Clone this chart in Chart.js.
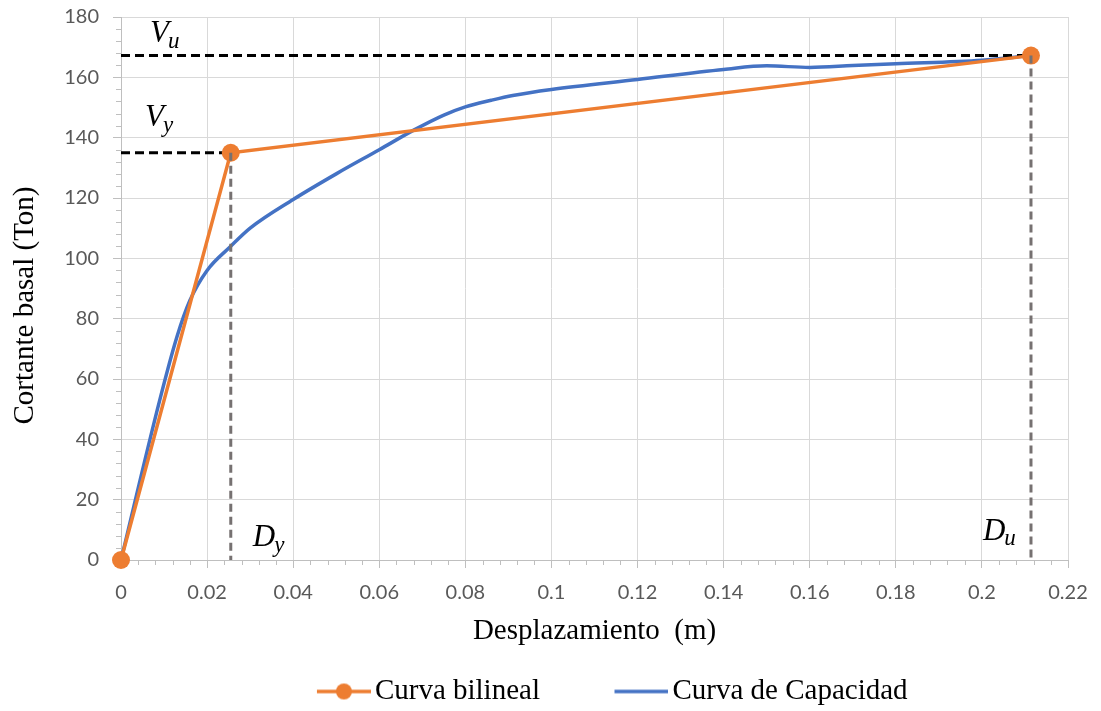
<!DOCTYPE html>
<html>
<head>
<meta charset="utf-8">
<title>Curva de capacidad</title>
<script src="https://cdn.jsdelivr.net/npm/chart.js@4.4.1/dist/chart.umd.min.js"></script>
<style>
  html, body { margin: 0; padding: 0; background: #fff; }
  #chart { display: block; }
</style>
</head>
<body>
<canvas id="chart" width="1101" height="711"></canvas>
<script>
// curva bilineal: origen, punto de fluencia (Dy, Vy), punto ultimo (Du, Vu)
var bilinealX = [0, 0.0255, 0.2114];
var bilinealY = [0, 135, 167.2];

// curva de capacidad (pushover)
var capacidadX = [0, 0.009, 0.013, 0.016, 0.02, 0.0255, 0.03, 0.04, 0.05, 0.06, 0.068,
                  0.075, 0.08, 0.086, 0.091, 0.1, 0.12, 0.14, 0.15, 0.16, 0.17, 0.18,
                  0.2, 0.2114];
var capacidadY = [0, 53, 74, 86, 96, 104, 110, 119.5, 128, 136, 142.5,
                  147.5, 150.2, 152.4, 154, 156, 159.3, 162.6, 163.8, 163.3, 163.9, 164.5,
                  165.7, 167.2];

var xTicks = [0, 0.02, 0.04, 0.06, 0.08, 0.1, 0.12, 0.14, 0.16, 0.18, 0.2, 0.22];
var yTicks = [0, 20, 40, 60, 80, 100, 120, 140, 160, 180];
var xMinorStep = 0.004;
var yMinorStep = 4;

var tituloY = 'Cortante basal (Ton)';

var Dy = bilinealX[1], Vy = bilinealY[1];
var Du = bilinealX[2], Vu = bilinealY[2];

function toPoints(xs, ys) {
  return xs.map(function (x, i) { return { x: x, y: ys[i] }; });
}

var naranja = '#ED7D31';
var azul = '#4472C4';
var gris = '#767171';

// icono de leyenda estilo Excel: linea con (o sin) marcador
function legendIcon(color, dot) {
  var c = document.createElement('canvas');
  c.width = 100; c.height = 20;
  var g = c.getContext('2d');
  g.strokeStyle = color;
  g.lineWidth = 3.5;
  g.beginPath(); g.moveTo(46, 10); g.lineTo(100, 10); g.stroke();
  if (dot) {
    g.fillStyle = color;
    g.beginPath(); g.arc(73, 10, 8, 0, Math.PI * 2); g.fill();
  }
  return c;
}
var iconos = [legendIcon(naranja, true), legendIcon(azul, false)];

var minorTicks = {
  id: 'minorTicks',
  afterDraw: function (chart) {
    var ctx = chart.ctx, xs = chart.scales.x, ys = chart.scales.y, a = chart.chartArea;
    ctx.save();
    ctx.strokeStyle = '#BFBFBF';
    ctx.lineWidth = 1;
    ctx.beginPath();
    var nY = Math.round(yTicks[yTicks.length - 1] / yMinorStep);
    for (var i = 0; i <= nY; i++) {
      if (i % 5 === 0) continue;
      var py = Math.round(ys.getPixelForValue(i * yMinorStep)) + 0.5;
      ctx.moveTo(a.left - 5, py); ctx.lineTo(a.left, py);
    }
    var nX = Math.round(xTicks[xTicks.length - 1] / xMinorStep);
    for (var j = 0; j <= nX; j++) {
      if (j % 5 === 0) continue;
      var px = Math.round(xs.getPixelForValue(j * xMinorStep)) + 0.5;
      ctx.moveTo(px, a.bottom); ctx.lineTo(px, a.bottom + 5);
    }
    ctx.stroke();
    ctx.restore();
  }
};

// rotulos Vu, Vy, Dy, Du con subindice
function simbolo(ctx, main, sub, x, base, subDrop) {
  ctx.font = 'italic 31px "Liberation Serif"';
  ctx.fillText(main, x, base);
  var w = ctx.measureText(main).width;
  ctx.font = 'italic 23px "Liberation Serif"';
  ctx.fillText(sub, x + w - 1, base + subDrop);
}

var rotulos = {
  id: 'rotulos',
  afterDraw: function (chart) {
    var ctx = chart.ctx, xs = chart.scales.x, ys = chart.scales.y, a = chart.chartArea;
    ctx.save();
    ctx.fillStyle = '#000';
    ctx.textAlign = 'left';
    ctx.textBaseline = 'alphabetic';
    simbolo(ctx, 'V', 'u', a.left + 29, ys.getPixelForValue(Vu) - 14, 6);
    simbolo(ctx, 'V', 'y', a.left + 24, ys.getPixelForValue(Vy) - 27, 6);
    simbolo(ctx, 'D', 'y', xs.getPixelForValue(Dy) + 22, a.bottom - 14, 6);
    simbolo(ctx, 'D', 'u', xs.getPixelForValue(Du) - 48, a.bottom - 20, 5);

    // titulo del eje vertical, algo por debajo del centro como en Excel
    ctx.translate(25, (a.top + a.bottom) / 2 + 17);
    ctx.rotate(-Math.PI / 2);
    ctx.textAlign = 'center';
    ctx.textBaseline = 'middle';
    ctx.font = '29px "Liberation Serif"';
    ctx.fillText(tituloY, 0, 0);
    ctx.restore();
  }
};

function numero(v) {
  return String(Math.round(v * 1000) / 1000);
}

var ctx = document.getElementById('chart');
var chart = new Chart(ctx, {
  type: 'scatter',
  data: {
    datasets: [
      {
        label: 'Curva bilineal',
        data: toPoints(bilinealX, bilinealY),
        showLine: true,
        borderColor: naranja,
        backgroundColor: naranja,
        borderWidth: 3.5,
        pointRadius: 9,
        pointBorderWidth: 0,
        pointHoverRadius: 9,
        clip: false,
        order: 2
      },
      {
        label: 'Curva de Capacidad',
        data: toPoints(capacidadX, capacidadY),
        showLine: true,
        borderColor: azul,
        backgroundColor: azul,
        borderWidth: 3.5,
        pointRadius: 0,
        cubicInterpolationMode: 'monotone',
        order: 4
      },
      {
        label: 'Vu',
        data: [{ x: 0, y: Vu }, { x: Du, y: Vu }],
        showLine: true,
        borderColor: '#000',
        borderWidth: 3,
        borderDash: [9, 5],
        pointRadius: 0,
        order: 3
      },
      {
        label: 'Vy',
        data: [{ x: 0, y: Vy }, { x: Dy, y: Vy }],
        showLine: true,
        borderColor: '#000',
        borderWidth: 3,
        borderDash: [9, 5],
        pointRadius: 0,
        order: 3
      },
      {
        label: 'Dy',
        data: [{ x: Dy, y: Vy }, { x: Dy, y: 0 }],
        showLine: true,
        borderColor: gris,
        borderWidth: 3,
        borderDash: [8, 5],
        pointRadius: 0,
        order: 1
      },
      {
        label: 'Du',
        data: [{ x: Du, y: Vu }, { x: Du, y: 0 }],
        showLine: true,
        borderColor: gris,
        borderWidth: 3,
        borderDash: [8, 5],
        pointRadius: 0,
        order: 1
      }
    ]
  },
  options: {
    responsive: false,
    animation: false,
    devicePixelRatio: 1,
    layout: { padding: { top: 17, right: 33, left: 0, bottom: -5 } },
    plugins: {
      tooltip: { enabled: false },
      legend: {
        position: 'bottom',
        fullSize: false,
        labels: {
          usePointStyle: true,
          pointStyleWidth: 79,
          padding: 39,
          color: '#000',
          font: { family: '"Liberation Serif"', size: 29 },
          filter: function (item) { return item.datasetIndex < 2; },
          generateLabels: function (chart) {
            var items = Chart.defaults.plugins.legend.labels.generateLabels(chart);
            items.forEach(function (it) {
              if (it.datasetIndex < 2) it.pointStyle = iconos[it.datasetIndex];
            });
            return items;
          }
        }
      }
    },
    scales: {
      x: {
        type: 'linear',
        min: 0,
        max: 0.22,
        afterBuildTicks: function (s) { s.ticks = xTicks.map(function (v) { return { value: v }; }); },
        afterFit: function (s) { s.height = 78; },
        grid: { color: '#D9D9D9', lineWidth: 1, tickLength: 8, tickColor: '#BFBFBF' },
        border: { color: '#BFBFBF' },
        ticks: {
          color: '#595959',
          padding: 13,
          maxRotation: 0,
          font: { family: 'Lato', size: 20 },
          callback: numero
        },
        title: {
          display: true,
          text: 'Desplazamiento  (m)',
          color: '#000',
          font: { family: '"Liberation Serif"', size: 29 },
          padding: { top: 0, bottom: -11 }
        }
      },
      y: {
        type: 'linear',
        min: 0,
        max: 180,
        afterBuildTicks: function (s) { s.ticks = yTicks.map(function (v) { return { value: v }; }); },
        afterFit: function (s) {
          s.width = 121;
          s.paddingTop = 12;
          s.paddingBottom = 12;
        },
        grid: { color: '#D9D9D9', lineWidth: 1, tickLength: 8, tickColor: '#BFBFBF' },
        border: { color: '#BFBFBF' },
        ticks: {
          color: '#595959',
          padding: 14,
          font: { family: 'Lato', size: 20 },
          callback: numero
        }
      }
    }
  },
  plugins: [minorTicks, rotulos]
});
</script>
</body>
</html>
